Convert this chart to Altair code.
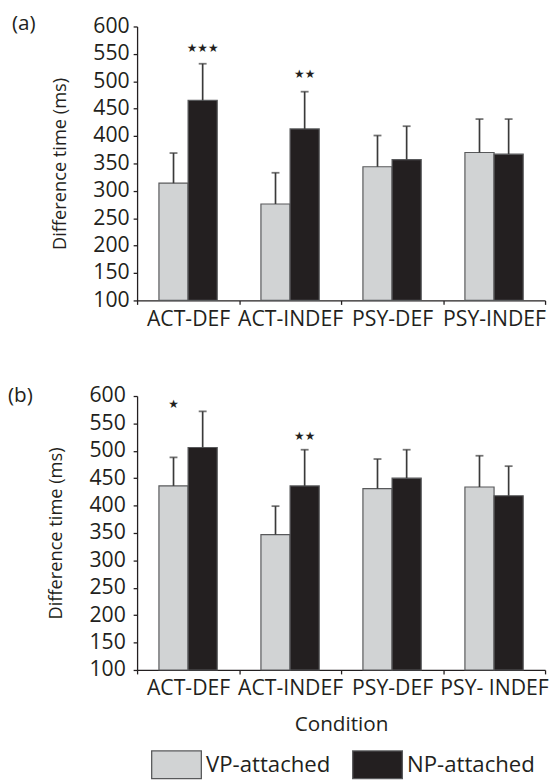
import altair as alt
import pandas as pd

FONT = "Open Sans"
INK = "#231f20"

groups = ["VP-attached", "NP-attached"]
group_colors = ["#d1d3d4", "#231f20"]

# Panel (a)
cond_a = ["ACT-DEF", "ACT-INDEF", "PSY-DEF", "PSY-INDEF"]
vp_a = [314, 276, 344, 370]
np_a = [465, 413, 357, 367]
vp_a_err = [369, 333, 401, 431]
np_a_err = [532, 481, 418, 431]
stars_a_cond = ["ACT-DEF", "ACT-INDEF"]
stars_a_group = ["NP-attached", "NP-attached"]
stars_a_text = ["★★★", "★★"]
stars_a_level = [561, 513]

# Panel (b)
cond_b = ["ACT-DEF", "ACT-INDEF", "PSY-DEF", "PSY- INDEF"]
vp_b = [436, 347, 431, 434]
np_b = [506, 436, 450, 418]
vp_b_err = [488, 399, 485, 491]
np_b_err = [572, 502, 502, 472]
stars_b_cond = ["ACT-DEF", "ACT-INDEF"]
stars_b_group = ["VP-attached", "NP-attached"]
stars_b_text = ["★", "★★"]
stars_b_level = [585, 527]

y_ticks = list(range(100, 601, 50))


def panel(conds, vp, npv, vpe, npe, s_cond, s_group, s_text, s_level,
          label, label_x, label_y, show_title, label_pad):
    df = pd.DataFrame({
        "condition": conds * 2,
        "group": [groups[0]] * len(conds) + [groups[1]] * len(conds),
        "mean": vp + npv,
        "err": vpe + npe,
    })
    sdf = pd.DataFrame({"condition": s_cond, "group": s_group,
                        "stars": s_text, "level": s_level})
    x = alt.X("condition:N", sort=conds,
              scale=alt.Scale(paddingInner=0, paddingOuter=0),
              axis=alt.Axis(title="Condition" if show_title else None,
                            labelAngle=0, tickBand="extent", tickSize=4,
                            labelPadding=4, labelOverlap=False, titlePadding=15,
                            labelFontSize=21.5, titleFontSize=21))
    xo = alt.XOffset("group:N", sort=groups,
                     scale=alt.Scale(paddingInner=0, paddingOuter=0.75))
    yscale = alt.Scale(domain=[100, 600], nice=False, zero=False)
    yaxis = alt.Axis(values=y_ticks, title="Difference time (ms)",
                     tickSize=4, labelPadding=label_pad, titlePadding=24,
                     labelFontSize=21.5, titleFontSize=18.5)
    color = alt.Color("group:N", sort=groups,
                      scale=alt.Scale(domain=groups, range=group_colors),
                      legend=alt.Legend(title=None, orient="none",
                                        direction="horizontal",
                                        legendX=25, legendY=734,
                                        symbolType="M-1.8,-1H1.8V1H-1.8Z",
                                        symbolSize=784, symbolStrokeWidth=1.3,
                                        symbolStrokeColor="#58595b",
                                        labelOffset=15, columnPadding=19,
                                        labelFont=FONT, labelFontSize=22.5,
                                        labelColor=INK, padding=0))
    bars = alt.Chart(df).mark_bar(stroke="#58595b", strokeWidth=1.2).encode(
        x=x, xOffset=xo, y=alt.Y("mean:Q", scale=yscale, axis=yaxis),
        y2=alt.datum(100), color=color)
    rules = alt.Chart(df).mark_rule(color="#3a3a3a", strokeWidth=1.7).encode(
        x=x, xOffset=xo,
        y=alt.Y("mean:Q", scale=yscale, axis=yaxis), y2="err:Q")
    caps = alt.Chart(df).mark_tick(orient="horizontal", size=8, thickness=1.8,
                                   color="#3a3a3a").encode(
        x=x, xOffset=xo, y=alt.Y("err:Q", scale=yscale, axis=yaxis))
    stars = alt.Chart(sdf).mark_text(font="DejaVu Sans", fontSize=12,
                                     baseline="middle", color=INK).encode(
        x=x, xOffset=xo, y=alt.Y("level:Q", scale=yscale, axis=yaxis),
        text="stars:N")
    lab = alt.Chart(pd.DataFrame({"t": [label]})).mark_text(
        font=FONT, fontSize=21, align="left", baseline="middle",
        color=INK).encode(x=alt.value(label_x), y=alt.value(label_y), text="t:N")
    return alt.layer(bars, rules, caps, stars, lab).properties(width=414, height=278)


pa = panel(cond_a, vp_a, np_a, vp_a_err, np_a_err,
           stars_a_cond, stars_a_group, stars_a_text, stars_a_level,
           "(a)", -127, -2, False, 4)
pb = panel(cond_b, vp_b, np_b, vp_b_err, np_b_err,
           stars_b_cond, stars_b_group, stars_b_text, stars_b_level,
           "(b)", -131, 0, True, 8)

chart = alt.concat(pa, pb, columns=1, align="none", spacing=56).resolve_scale(
    color="shared"
).properties(
    padding={"left": 0, "top": 0, "right": 0, "bottom": 0}
).configure_view(stroke=None).configure_axis(
    labelFont=FONT, titleFont=FONT,
    labelColor=INK, titleColor=INK, domainColor=INK, tickColor=INK,
    titleFontWeight="normal", grid=False, domainWidth=1.3, tickWidth=1.3
)

chart.save("out.html", embed_options={"renderer": "svg", "actions": False})
